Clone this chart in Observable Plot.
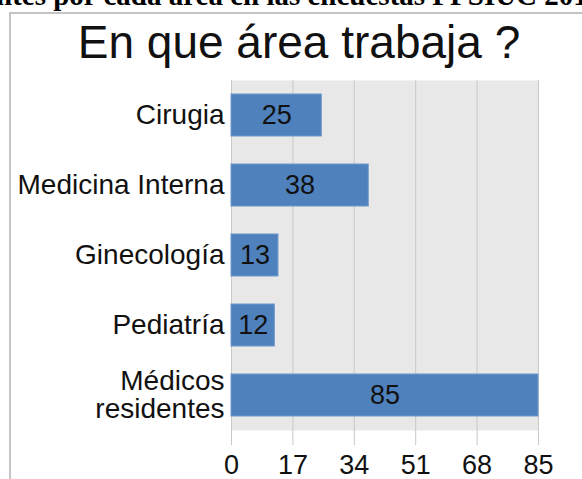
<!DOCTYPE html>
<html>
<head>
<meta charset="utf-8">
<script src="https://cdn.jsdelivr.net/npm/d3@7"></script>
<script src="https://cdn.jsdelivr.net/npm/@observablehq/plot@0.6"></script>
<style>
  html, body { margin: 0; padding: 0; background: #fff; }
  #wrap { position: relative; width: 582px; height: 479px; overflow: hidden; font-family: "Liberation Sans", Arial, sans-serif; }
  #header { position: absolute; left: -4px; top: -20px; white-space: nowrap; font-family: "Liberation Serif", "Times New Roman", serif; font-weight: bold; font-size: 29px; line-height: 30px; color: #000; }
  #frame { position: absolute; left: 9px; top: 12px; width: 600px; height: 500px; border-left: 2px solid #c4c4c4; border-top: 2px solid #c4c4c4; box-sizing: border-box; }
  #title { position: absolute; left: 0; width: 598px; top: 19px; text-align: center; font-size: 46px; line-height: 46px; color: #111; }
  #chart { position: absolute; left: 0; top: 70px; }
</style>
</head>
<body>
<div id="wrap">
  <div id="header"></div>
  <div id="frame"></div>
  <div id="title"></div>
  <div id="chart"></div>
</div>
<script>
const headerText = "ntes por cada área en las encuestas PPSIUC 2014";
const title = "En que área trabaja ?";
const categories = ["Cirugia", "Medicina Interna", "Ginecología", "Pediatría", "Médicos residentes"];
const categoryLabels = ["Cirugia", "Medicina Interna", "Ginecología", "Pediatría", "Médicos\nresidentes"];
const values = [25, 38, 13, 12, 85];
const xTicks = [0, 17, 34, 51, 68, 85];

document.getElementById("header").textContent = headerText;
document.getElementById("title").textContent = title;

const data = categories.map((c, i) => ({area: c, value: values[i]}));
const labelOf = new Map(categories.map((c, i) => [c, categoryLabels[i]]));

const chart = Plot.plot({
  width: 582,
  height: 409,
  marginLeft: 231,
  marginRight: 44,
  marginTop: 10,
  marginBottom: 49,
  style: {fontFamily: "'Liberation Sans', Arial, sans-serif", fontSize: "27px", background: "transparent", overflow: "visible"},
  x: {domain: [0, 85]},
  y: {domain: categories, paddingInner: 0.4, paddingOuter: 0.2},
  marks: [
    Plot.frame({fill: "#e8e8e8", stroke: "none"}),
    Plot.gridX(xTicks, {stroke: "#c8c8c8", strokeOpacity: 1, strokeWidth: 1}),
    Plot.barX(data, {y: "area", x: "value", fill: "#4f81bd", stroke: "#6f98c9", strokeWidth: 1, inset: 0}),
    Plot.text(data, {y: "area", x: d => d.value / 2, text: d => String(d.value), fill: "#111", fontSize: 27}),
    Plot.axisX(xTicks, {tickSize: 15, stroke: "#c8c8c8", strokeOpacity: 1, fill: "#111", fontSize: 27, tickPadding: 9, label: null}),
    Plot.axisY({tickSize: 0, tickPadding: 7, fill: "#111", fontSize: 28, lineHeight: 1.0, tickFormat: d => labelOf.get(d), label: null})
  ]
});
document.getElementById("chart").appendChild(chart);
</script>
</body>
</html>
